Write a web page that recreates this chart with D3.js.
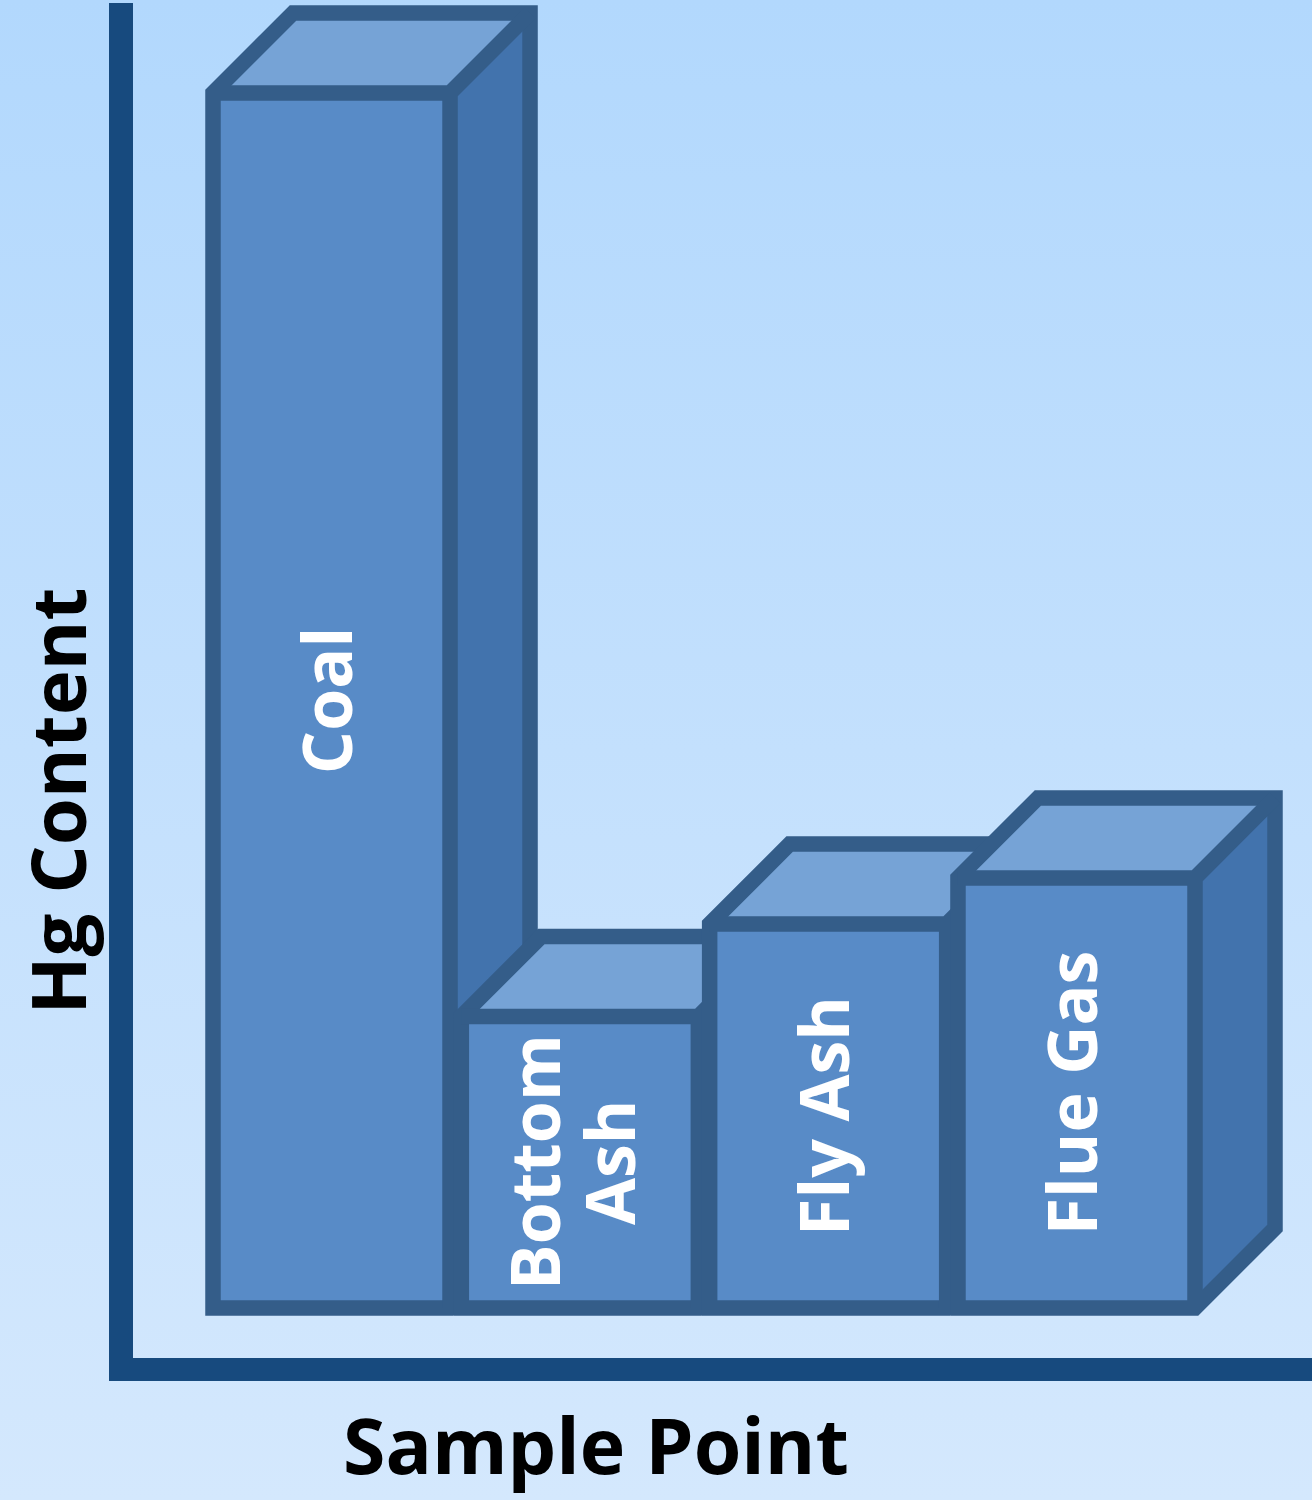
<!DOCTYPE html>
<html>
<head>
<meta charset="utf-8">
<script src="https://cdn.jsdelivr.net/npm/d3@7"></script>
<style>
  html, body { margin: 0; padding: 0; background: #c4e0fc; }
  svg { display: block; }
  text { font-family: "Open Sans", "Noto Sans", sans-serif; font-weight: 700; }
</style>
</head>
<body>
<svg id="chart" width="1312" height="1500"></svg>
<script>
// ---- data ----
const categories = ["Coal", "Bottom Ash", "Fly Ash", "Flue Gas"];
const hgContent = [100, 24.0, 31.6, 35.4];
const barLabelLines = [["Coal"], ["Bottom", "Ash"], ["Fly Ash"], ["Flue Gas"]];
const xAxisTitle = "Sample Point";
const yAxisTitle = "Hg Content";

// ---- layout ----
const W = 1312, H = 1500;
const baseY = 1308, topY = 93;
const depth = 80;
const strokeW = 15.5;
const colors = {
  front: "#588bc7", top: "#76a3d6", side: "#4273ad",
  edge: "#345d89", axis: "#174a7e", label: "#ffffff", title: "#000000"
};

const svg = d3.select("#chart");

// background gradient
const defs = svg.append("defs");
const grad = defs.append("linearGradient").attr("id", "bg")
  .attr("x1", 0).attr("y1", 0).attr("x2", 0).attr("y2", 1);
grad.append("stop").attr("offset", "0%").attr("stop-color", "#b2d8fd");
grad.append("stop").attr("offset", "100%").attr("stop-color", "#d4e8fd");
svg.append("rect").attr("width", W).attr("height", H).attr("fill", "url(#bg)");

// scales
const x = d3.scaleBand().domain(categories).range([213, 1195]).paddingInner(0.0455).paddingOuter(0);
const y = d3.scaleLinear().domain([0, 100]).range([baseY, topY]);

const data = categories.map((c, i) => ({ cat: c, v: hgContent[i], lines: barLabelLines[i] }));

// axes (plain lines, no ticks)
const axisG = svg.append("g");
axisG.append("line")
  .attr("x1", 121).attr("x2", 121).attr("y1", 3).attr("y2", 1381)
  .attr("stroke", colors.axis).attr("stroke-width", 24);
axisG.append("line")
  .attr("x1", 109).attr("x2", W).attr("y1", 1369.5).attr("y2", 1369.5)
  .attr("stroke", colors.axis).attr("stroke-width", 23);

// 3D bars
const bars = svg.append("g");
data.forEach(d => {
  const x0 = x(d.cat), x1 = x0 + x.bandwidth();
  const yt = y(d.v), yb = y(0);
  const g = bars.append("g");
  const pts = a => a.map(p => p.join(",")).join(" ");
  // faces
  g.append("polygon").attr("points", pts([[x1, yt], [x1 + depth, yt - depth], [x1 + depth, yb - depth], [x1, yb]]))
    .attr("fill", colors.side);
  g.append("polygon").attr("points", pts([[x0, yt], [x0 + depth, yt - depth], [x1 + depth, yt - depth], [x1, yt]]))
    .attr("fill", colors.top);
  g.append("rect").attr("x", x0).attr("y", yt).attr("width", x1 - x0).attr("height", yb - yt)
    .attr("fill", colors.front);
  // silhouette
  const sil = d3.path();
  sil.moveTo(x0, yb); sil.lineTo(x0, yt); sil.lineTo(x0 + depth, yt - depth);
  sil.lineTo(x1 + depth, yt - depth); sil.lineTo(x1 + depth, yb - depth); sil.lineTo(x1, yb); sil.closePath();
  g.append("path").attr("d", sil.toString()).attr("fill", "none")
    .attr("stroke", colors.edge).attr("stroke-width", strokeW).attr("stroke-linejoin", "miter");
  // inner edges
  const inner = d3.path();
  inner.moveTo(x0, yt); inner.lineTo(x1, yt); inner.lineTo(x1 + depth, yt - depth);
  inner.moveTo(x1, yt); inner.lineTo(x1, yb);
  g.append("path").attr("d", inner.toString()).attr("fill", "none")
    .attr("stroke", colors.edge).attr("stroke-width", strokeW).attr("stroke-linejoin", "miter");
});

// bar labels (rotated, white)
const labelSize = 68;
const lineGap = 75;
data.forEach(d => {
  const cx = x(d.cat) + x.bandwidth() / 2 - 4;
  const cy = (y(d.v) + y(0)) / 2;
  const n = d.lines.length;
  d.lines.forEach((ln, j) => {
    const off = (j - (n - 1) / 2) * lineGap - (n > 1 ? 3 : 0);
    const lx = cx + off;
    svg.append("text")
      .attr("transform", `translate(${lx},${cy}) rotate(-90)`)
      .attr("text-anchor", "middle")
      .attr("dy", "0.36em")
      .attr("font-size", labelSize)
      .attr("fill", colors.label)
      .text(ln);
  });
});

// axis titles
svg.append("text")
  .attr("x", 596).attr("y", 1474)
  .attr("text-anchor", "middle")
  .attr("font-size", 77)
  .attr("fill", colors.title)
  .text(xAxisTitle);
svg.append("text")
  .attr("transform", `translate(86,801) rotate(-90)`)
  .attr("text-anchor", "middle")
  .attr("font-size", 76)
  .attr("fill", colors.title)
  .text(yAxisTitle);
</script>
</body>
</html>
